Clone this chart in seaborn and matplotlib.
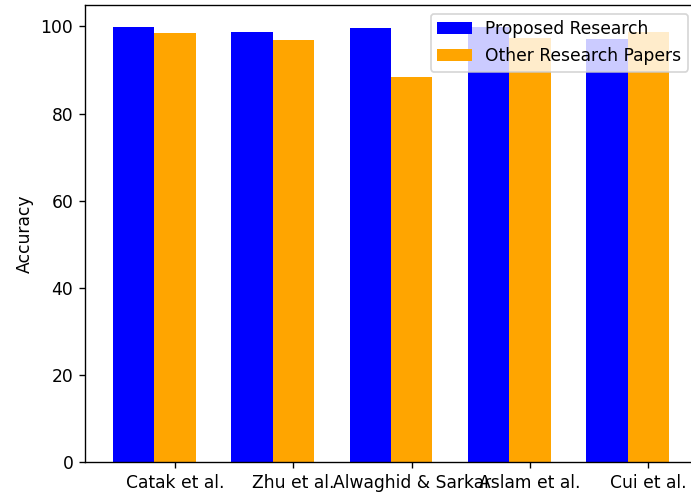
import matplotlib
matplotlib.use("Agg")
import matplotlib.pyplot as plt
import seaborn as sns
import pandas as pd

studies = ["Catak et al.", "Zhu et al.", "Alwaghid & Sarkar", "Aslam et al.", "Cui et al."]
proposed = [99.9, 98.8, 99.7, 99.9, 97.0]
others = [98.5, 96.8, 88.3, 97.3, 98.8]
series_names = ["Proposed Research", "Other Research Papers"]
colors = ["blue", "orange"]

df = pd.DataFrame({
    "study": studies * 2,
    "accuracy": proposed + others,
    "series": [series_names[0]] * len(studies) + [series_names[1]] * len(studies),
})

DPI = 123
fig = plt.figure(figsize=(691 / DPI, 497 / DPI), dpi=DPI)
ax = fig.add_axes([0.1234, 0.0698, 0.885, 0.9202])

sns.barplot(data=df, x="study", y="accuracy", hue="series", order=studies,
            hue_order=series_names, palette=colors, saturation=1, width=0.7,
            errorbar=None, ax=ax)

ax.set_xticks([i + 0.175 for i in range(len(studies))])
ax.set_xticklabels(studies)
ax.set_xlim(-0.585, len(studies) - 1 + 0.585)
ax.set_ylim(0, 104.9)
ax.set_xlabel("")
ax.set_ylabel("Accuracy")
ax.legend(loc="upper right", title=None)

fig.savefig("out.png", dpi=DPI)
